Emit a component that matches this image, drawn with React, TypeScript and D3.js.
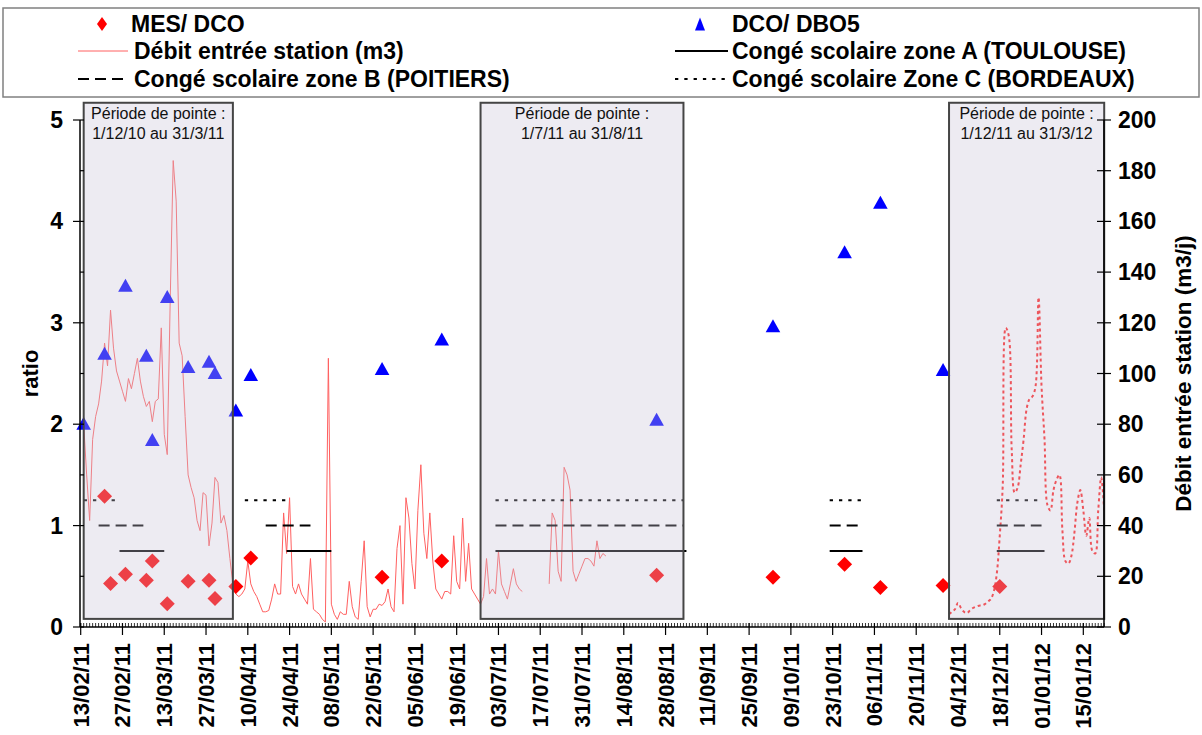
import React from 'react';
import * as d3 from 'd3';

// ---------- DATA ----------
const X_START = '2011-02-13';
const X_END = '2012-01-22';
const TICK_START = '2011-02-13';
const TICK_STEP_DAYS = 14;
const TICK_COUNT = 25;

const RATIO_TICKS = [0, 1, 2, 3, 4, 5];
const RATIO_MINOR = [0.5, 1.5, 2.5, 3.5, 4.5];
const FLOW_TICKS = [0, 20, 40, 60, 80, 100, 120, 140, 160, 180, 200];

// MES / DCO (red diamonds)
const MES_DCO_DATES = ['2011-02-21', '2011-02-23', '2011-02-28', '2011-03-07', '2011-03-09', '2011-03-14', '2011-03-21', '2011-03-28', '2011-03-30', '2011-04-06', '2011-04-11', '2011-05-25', '2011-06-14', '2011-08-25', '2011-10-03', '2011-10-27', '2011-11-08', '2011-11-29', '2011-12-18'];
const MES_DCO_VALUES = [1.29, 0.43, 0.52, 0.46, 0.65, 0.23, 0.45, 0.46, 0.28, 0.40, 0.68, 0.49, 0.65, 0.51, 0.49, 0.62, 0.39, 0.41, 0.40];

// DCO / DBO5 (blue triangles)
const DCO_DBO5_DATES = ['2011-02-14', '2011-02-21', '2011-02-28', '2011-03-07', '2011-03-09', '2011-03-14', '2011-03-21', '2011-03-28', '2011-03-30', '2011-04-06', '2011-04-11', '2011-05-25', '2011-06-14', '2011-08-25', '2011-10-03', '2011-10-27', '2011-11-08', '2011-11-29'];
const DCO_DBO5_VALUES = [2.01, 2.70, 3.37, 2.68, 1.85, 3.26, 2.57, 2.62, 2.51, 2.14, 2.49, 2.55, 2.84, 2.05, 2.97, 3.70, 4.19, 2.54];

// Débit entrée station (m3/j), daily values
const FLOW_A_START = '2011-02-14';
const FLOW_A = [80, 60, 42, 74, 83, 88, 97, 112, 103, 125, 110, 101, 97, 93, 89, 98, 94, 100, 106, 97,
  91, 87, 89, 81, 89, 90, 118, 76, 68, 129, 184, 168, 112, 107, 83, 60, 55, 51, 42, 38,
  53, 52, 32, 41, 59, 57, 41, 44, 38, 27, 17, 13, 12, 13, 15, 26, 17, 14, 12, 9,
  6, 6, 6.5, 11, 17, 13, 13, 45, 29, 51, 16, 13, 17, 13, 11, 9, 27, 7, 6, 5,
  3, 2, 106, 9, 5, 3, 6, 5, 5, 18, 8, 4, 3, 18, 34, 8, 4, 7, 7, 9,
  8.5, 10, 15, 8, 6, 31, 40, 9, 51, 43, 25, 15, 46, 64, 37, 27, 45, 26, 15, 13,
  11, 14, 14, 13, 36, 18, 15, 43, 18, 33, 15, 13, 11, 9, 12, 27, 13, 15, 13, 30,
  17, 14, 11, 17, 23, 17, 15, 14];
const FLOW_B_START = '2011-07-20';
const FLOW_B = [17, 45, 42, 22, 18, 63, 60, 54, 22, 18, 21, 24, 27, 27, 26, 24, 34, 27, 29, 28];
const FLOW_C_START = '2011-12-01';
const FLOW_C = [5, 6, 7, 9.5, 7.5, 6, 5.5, 6.5, 7.5, 8, 8.4, 8.5, 9, 10, 11, 14, 21, 36, 56, 118,
  115, 70, 53, 55, 64, 74, 86, 90, 91, 95, 130, 95, 74, 48, 46, 54, 58, 60, 38, 26,
  25, 28, 37, 49, 54, 46, 36, 43, 30, 29, 46, 59, 46];

// Peak periods (shaded boxes)
const PEAK_STARTS = ['2011-02-14', '2011-06-27', '2011-12-01'];
const PEAK_ENDS = ['2011-04-05', '2011-09-03', '2012-01-22'];
const PEAK_LABELS = ['1/12/10 au 31/3/11', '1/7/11 au 31/8/11', '1/12/11 au 31/3/12'];
const PEAK_TITLE = 'Période de pointe :';
const BOX_TOP = 5.17;
const BOX_BOTTOM = 0.08;

// School holidays
const ZONE_A_LEVEL = 0.75;
const ZONE_B_LEVEL = 1.0;
const ZONE_C_LEVEL = 1.25;
const ZONE_A = [['2011-02-26', '2011-03-13'], ['2011-04-23', '2011-05-08'], ['2011-07-02', '2011-09-04'], ['2011-10-22', '2011-11-02'], ['2011-12-17', '2012-01-02']];
const ZONE_B = [['2011-02-19', '2011-03-06'], ['2011-04-16', '2011-05-01'], ['2011-07-02', '2011-09-03'], ['2011-10-22', '2011-11-02'], ['2011-12-17', '2012-01-01']];
const ZONE_C = [['2011-02-14', '2011-02-26'], ['2011-04-09', '2011-04-24'], ['2011-07-02', '2011-09-03'], ['2011-10-22', '2011-11-02'], ['2011-12-17', '2012-01-01']];

const LEGEND_LABELS = ['MES/ DCO', 'DCO/ DBO5', 'Débit entrée station (m3)', 'Congé scolaire zone A (TOULOUSE)', 'Congé scolaire zone B (POITIERS)', 'Congé scolaire Zone C (BORDEAUX)'];

// ---------- HELPERS ----------
const parse = (s: string) => new Date(s + 'T00:00:00Z');
const FONT = '"Liberation Sans", Arial, Helvetica, sans-serif';

const RED = '#ff0000';
const BLUE = '#0000ff';
const FLOW_COLOR = '#ff6060';

function diamond(cx: number, cy: number, hw: number, hh: number) {
  return `M${cx},${cy - hh}L${cx + hw},${cy}L${cx},${cy + hh}L${cx - hw},${cy}Z`;
}
function triangle(cx: number, cy: number, hw: number, hh: number) {
  return `M${cx},${cy - hh}L${cx + hw},${cy + hh}L${cx - hw},${cy + hh}Z`;
}

export default function App() {
  const x = d3.scaleUtc().domain([parse(X_START), parse(X_END)]).range([80.7, 1104.2]);
  const yL = d3.scaleLinear().domain([0, 5]).range([627, 120]);
  const yR = d3.scaleLinear().domain([0, 200]).range([627, 120]);

  const series = (start: string, vals: number[]) =>
    vals.map((v, i) => [d3.utcDay.offset(parse(start), i), v] as [Date, number]);

  const lineLin = d3.line<[Date, number]>().x(d => x(d[0])).y(d => yR(d[1]));
  const lineSmooth = d3.line<[Date, number]>().x(d => x(d[0])).y(d => yR(d[1])).curve(d3.curveCatmullRom.alpha(0.5));

  const axisLeftX = 80;
  const axisRightX = 1104;
  const axisY = 627;

  const tickDates = d3.range(TICK_COUNT).map(i => d3.utcDay.offset(parse(TICK_START), i * TICK_STEP_DAYS));
  const dayTicks = d3.utcDay.range(parse(X_START), d3.utcDay.offset(parse(X_END), 1));
  const fmt = d3.utcFormat('%d/%m/%y');

  const holidayLines = (zones: string[][], level: number, dash: string | undefined, key: string) =>
    zones.map((z, i) => (
      <line key={key + i} x1={x(parse(z[0]))} x2={x(parse(z[1]))} y1={yL(level)} y2={yL(level)}
        stroke="#000" strokeWidth={2} strokeDasharray={dash} />
    ));

  return (
    <svg width={1202} height={735} style={{ position: 'absolute', left: 0, top: 0, background: '#fff' }}
      fontFamily={FONT}>
      <defs>
        <clipPath id="plotclip">
          <rect x={axisLeftX} y={100} width={axisRightX - axisLeftX} height={axisY - 100} />
        </clipPath>
      </defs>

      {/* Legend */}
      <rect x={3} y={8} width={1196} height={89} fill="none" stroke="#808080" strokeWidth={1.5} />
      <g fontWeight="bold" fontSize={23} fill="#000">
        <path d={diamond(102, 24, 5, 7)} fill={RED} />
        <text x={131} y={32}>{LEGEND_LABELS[0]}</text>
        <path d={triangle(700, 24, 5, 6.5)} fill={BLUE} />
        <text x={732} y={32}>{LEGEND_LABELS[1]}</text>
        <line x1={78} x2={128} y1={51} y2={51} stroke={FLOW_COLOR} strokeWidth={1} />
        <text x={134} y={59}>{LEGEND_LABELS[2]}</text>
        <line x1={675} x2={728} y1={51} y2={51} stroke="#000" strokeWidth={2} />
        <text x={732} y={59}>{LEGEND_LABELS[3]}</text>
        <line x1={78} x2={128} y1={79} y2={79} stroke="#000" strokeWidth={2} strokeDasharray="11,6" />
        <text x={134} y={87}>{LEGEND_LABELS[4]}</text>
        <line x1={675} x2={728} y1={79} y2={79} stroke="#000" strokeWidth={2} strokeDasharray="3.3,6" />
        <text x={732} y={87}>{LEGEND_LABELS[5]}</text>
      </g>

      {/* Flow lines */}
      <g clipPath="url(#plotclip)">
        <path d={lineLin(series(FLOW_A_START, FLOW_A)) || ''} fill="none" stroke={FLOW_COLOR} strokeWidth={1} />
        <path d={lineLin(series(FLOW_B_START, FLOW_B)) || ''} fill="none" stroke={FLOW_COLOR} strokeWidth={1} />
        <path d={lineSmooth(series(FLOW_C_START, FLOW_C)) || ''} fill="none" stroke="#ff2020" strokeWidth={2} strokeDasharray="3,3" />
      </g>

      {/* Holidays */}
      {holidayLines(ZONE_A, ZONE_A_LEVEL, undefined, 'a')}
      {holidayLines(ZONE_B, ZONE_B_LEVEL, '11,6', 'b')}
      {holidayLines(ZONE_C, ZONE_C_LEVEL, '3.3,6', 'c')}

      {/* Markers */}
      {MES_DCO_DATES.map((d, i) => (
        <path key={'m' + i} d={diamond(x(parse(d)), yL(MES_DCO_VALUES[i]), 7.5, 7.5)} fill={RED} />
      ))}
      {DCO_DBO5_DATES.map((d, i) => (
        <path key={'t' + i} d={triangle(x(parse(d)), yL(DCO_DBO5_VALUES[i]), 7.3, 6.5)} fill={BLUE} />
      ))}

      {/* Peak period boxes (translucent overlay) */}
      {PEAK_STARTS.map((s, i) => {
        const x0 = x(parse(s));
        const x1 = x(parse(PEAK_ENDS[i]));
        const cx = (x0 + x1) / 2;
        return (
          <g key={'box' + i}>
            <rect x={x0} y={yL(BOX_TOP)} width={x1 - x0} height={yL(BOX_BOTTOM) - yL(BOX_TOP)}
              fill="rgb(200,194,216)" fillOpacity={0.33} stroke="#454545" strokeWidth={2} />
            <text x={cx} y={yL(BOX_TOP) + 16} textAnchor="middle" fontSize={16} fill="#111">{PEAK_TITLE}</text>
            <text x={cx} y={yL(BOX_TOP) + 36} textAnchor="middle" fontSize={16} fill="#111">{PEAK_LABELS[i]}</text>
          </g>
        );
      })}

      {/* Left axis */}
      <line x1={axisLeftX} x2={axisLeftX} y1={yL(5)} y2={axisY} stroke="#000" strokeWidth={1.5} />
      {RATIO_TICKS.map(t => (
        <g key={'rl' + t}>
          <line x1={axisLeftX - 7} x2={axisLeftX + 4} y1={yL(t)} y2={yL(t)} stroke="#000" strokeWidth={1.2} />
          <text x={63} y={yL(t) + 8} textAnchor="end" fontSize={23} fontWeight="bold">{t}</text>
        </g>
      ))}
      {RATIO_MINOR.map(t => (
        <line key={'rm' + t} x1={axisLeftX} x2={axisLeftX + 4} y1={yL(t)} y2={yL(t)} stroke="#000" strokeWidth={1.2} />
      ))}
      <text transform={`translate(38,${(yL(0) + yL(5)) / 2}) rotate(-90)`} textAnchor="middle" fontSize={22} fontWeight="bold">ratio</text>

      {/* Right axis */}
      <line x1={axisRightX} x2={axisRightX} y1={yR(200)} y2={axisY} stroke="#000" strokeWidth={1.5} />
      {FLOW_TICKS.map(t => (
        <g key={'fr' + t}>
          <line x1={axisRightX - 7} x2={axisRightX + 7} y1={yR(t)} y2={yR(t)} stroke="#000" strokeWidth={1.2} />
          <text x={1118} y={yR(t) + 8} textAnchor="start" fontSize={23} fontWeight="bold">{t}</text>
        </g>
      ))}
      <text transform={`translate(1191,${(yR(0) + yR(200)) / 2}) rotate(-90)`} textAnchor="middle" fontSize={22.5} fontWeight="bold">Débit entrée station (m3/j)</text>

      {/* X axis */}
      <line x1={axisLeftX} x2={axisRightX} y1={axisY} y2={axisY} stroke="#000" strokeWidth={1.5} />
      {dayTicks.map((d, i) => (
        <line key={'dt' + i} x1={x(d)} x2={x(d)} y1={axisY - 4} y2={axisY} stroke="#000" strokeWidth={0.8} />
      ))}
      {tickDates.map((d, i) => (
        <g key={'xt' + i}>
          <line x1={x(d)} x2={x(d)} y1={axisY - 4} y2={axisY + 8} stroke="#000" strokeWidth={1.2} />
          <text transform={`translate(${x(d) + 8},643) rotate(-90)`} textAnchor="end" fontSize={22} fontWeight="bold">{fmt(d)}</text>
        </g>
      ))}
    </svg>
  );
}
